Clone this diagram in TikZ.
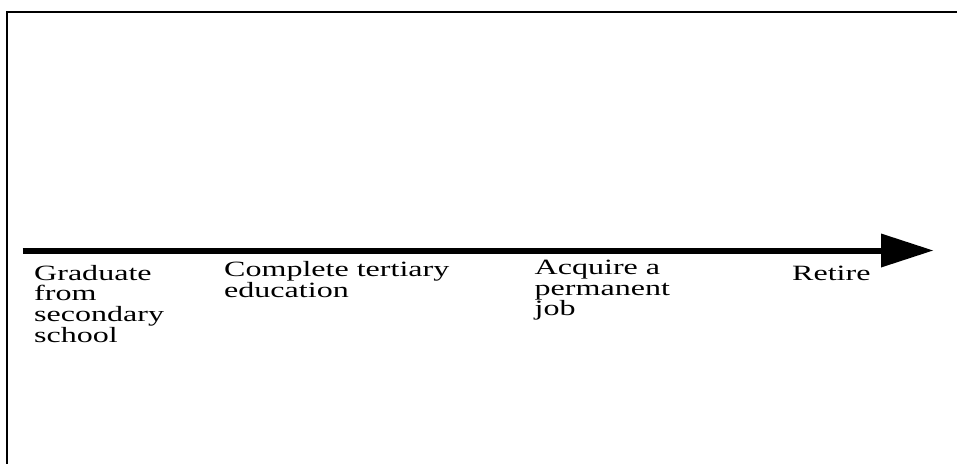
\documentclass[tikz,border=0pt]{standalone}
\usepackage{fontspec}
\newfontfamily\lblfont{Liberation Serif}[FakeStretch=1.47]
\tikzset{
  frameline/.style={line width=2.4pt, draw=black},
  axisline/.style={line width=6pt, draw=black},
  milestone/.style={anchor=north west, inner sep=0pt, align=left,
    font=\lblfont\fontsize{21.8pt}{20.7pt}\selectfont},
}
\newcommand{\firststrut}{\rule{0pt}{16pt}}
\begin{document}
\begin{tikzpicture}[x=1pt, y=-1pt]
  \useasboundingbox (0,0) rectangle (957,463);
  \clip (0,0) rectangle (957,463);
  % outer frame, running off the right and bottom edges
  \draw[frameline] (7,520) -- (7,12) -- (1010,12);
  % time axis with a large triangular head
  \coordinate (axisstart) at (22.5,250.5);
  \coordinate (headbase) at (881,250.5);
  \coordinate (tip) at (933,250.5);
  \draw[axisline] (axisstart) -- (headbase);
  \fill[black] ([yshift=-17pt]headbase) -- (tip) -- ([yshift=17pt]headbase) -- cycle;
  % milestones along the axis
  \node[milestone] (grad) at (34,264) {\firststrut Graduate\\from\\secondary\\school};
  \node[milestone] (tert) at (224,260.7) {\firststrut Complete tertiary\\education};
  \node[milestone] (job) at (534.5,258.3) {\firststrut Acquire a\\permanent\\job};
  \node[milestone] (retire) at (792,264) {\firststrut Retire};
\end{tikzpicture}
\end{document}
